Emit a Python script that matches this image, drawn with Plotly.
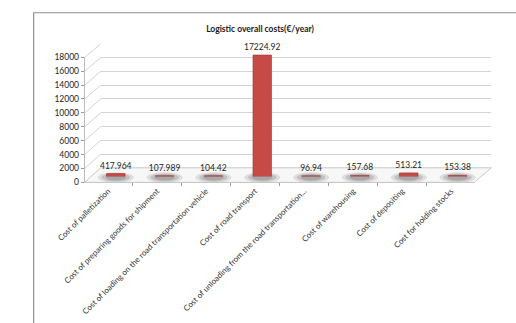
import plotly.graph_objects as go

# Logistic cost breakdown (EUR per year)
categories = [
    "Cost of palletization",
    "Cost of preparing goods for shipment",
    "Cost of loading on the road transportation vehicle",
    "Cost of road transport",
    "Cost of unloading from the road transportation...",
    "Cost of warehousing",
    "Cost of depositing",
    "Cost for holding stocks",
]
costs = [417.964, 107.989, 104.42, 17224.92, 96.94, 157.68, 513.21, 153.38]
cost_labels = ["417.964", "107.989", "104.42", "17224.92", "96.94", "157.68", "513.21", "153.38"]
y_ticks = list(range(0, 18001, 2000))

W, H = 516, 323
Y_MAX = 18000


def fx(px):
    return px / W


def fy(py):
    return 1 - py / H


# pixel frames: front face (labels), back wall (grid) and mid depth (bars)
FRONT = dict(x0=60, x1=472, y0=183, y1=54)
BACK = dict(x0=77, x1=490, y0=168, y1=40)
MID = dict(x0=67, x1=480, y0=177, y1=46)

FONT = "Lato, 'Open Sans', sans-serif"
RED = "#c64b47"

fig = go.Figure()

fig.add_trace(go.Bar(
    x=categories, y=costs, xaxis="x3", yaxis="y3",
    marker=dict(color=RED, line=dict(color="#9c3431", width=0.6)),
    text=cost_labels, textposition="outside", constraintext="none",
    textfont=dict(size=8.5, color="#262626", family=FONT),
    cliponaxis=False, width=0.38, hoverinfo="x+y",
))

# invisible trace to hold the front category axis
fig.add_trace(go.Scatter(x=categories, y=[0] * len(categories), mode="markers",
                         marker=dict(opacity=0), xaxis="x", yaxis="y",
                         hoverinfo="skip", showlegend=False))
# invisible trace for the back wall grid
fig.add_trace(go.Scatter(x=categories, y=[0] * len(categories), mode="markers",
                         marker=dict(opacity=0), xaxis="x2", yaxis="y2",
                         hoverinfo="skip", showlegend=False))

shapes = []

# outer frame (left and top edges)
shapes.append(dict(type="path", xref="paper", yref="paper",
                   path=f"M {fx(6)} {fy(330)} L {fx(6)} {fy(8)} L {fx(530)} {fy(8)}",
                   line=dict(color="#8f8f8f", width=1.2)))

# floor of the chart
shapes.append(dict(type="path", xref="paper", yref="paper", layer="below",
                   path=(f"M {fx(FRONT['x0'])} {fy(FRONT['y0'])} L {fx(FRONT['x1'])} {fy(FRONT['y0'])} "
                         f"L {fx(BACK['x1'])} {fy(BACK['y0'])} L {fx(BACK['x0'])} {fy(BACK['y0'])} Z"),
                   fillcolor="#f7f7f7", line=dict(color="#c8c8c8", width=1)))

# side wall diagonals from the value axis to the back grid
for v in y_ticks[1:]:
    yf = FRONT["y0"] + (FRONT["y1"] - FRONT["y0"]) * v / Y_MAX
    yb = BACK["y0"] + (BACK["y1"] - BACK["y0"]) * v / Y_MAX
    shapes.append(dict(type="line", xref="paper", yref="paper", layer="below",
                       x0=fx(FRONT["x0"]), y0=fy(yf), x1=fx(BACK["x0"]), y1=fy(yb),
                       line=dict(color="#d4d4d4", width=1)))

# soft shadows beneath each cylinder
step = (MID["x1"] - MID["x0"]) / len(categories)
for i in range(len(categories)):
    cx = MID["x0"] + step * (i + 0.5)
    cy = MID["y0"] + 1
    for rw, rh, op in [(19, 5.5, 0.18), (15, 4.2, 0.25), (11, 3, 0.3)]:
        shapes.append(dict(type="circle", xref="paper", yref="paper", layer="below",
                           x0=fx(cx - rw), x1=fx(cx + rw), y0=fy(cy + rh), y1=fy(cy - rh),
                           fillcolor=f"rgba(110,110,110,{op})", line=dict(width=0)))

fig.update_layout(
    width=W, height=H,
    margin=dict(l=0, r=0, t=0, b=0),
    paper_bgcolor="white", plot_bgcolor="rgba(0,0,0,0)",
    showlegend=False,
    title=dict(text="<b>Logistic overall costs(€/year)</b>", x=fx(260), xanchor="center",
               y=fy(29), yanchor="middle",
               font=dict(size=8.5, color="#1a1a1a", family=FONT)),
    xaxis=dict(domain=[fx(FRONT["x0"]), fx(FRONT["x1"])], anchor="y",
               type="category", tickson="boundaries", ticks="outside", ticklen=3,
               tickcolor="#9a9a9a", tickangle=-45, showline=True, linecolor="#c8c8c8",
               showgrid=False, tickfont=dict(size=8, color="#333333", family=FONT),
               fixedrange=True),
    yaxis=dict(domain=[fy(FRONT["y0"]), fy(FRONT["y1"])], anchor="x",
               range=[0, Y_MAX], tickvals=y_ticks, ticktext=[str(v) for v in y_ticks],
               ticks="outside", ticklen=3,
               tickcolor="#9a9a9a", showline=True, linecolor="#bdbdbd",
               showgrid=False, zeroline=False,
               tickfont=dict(size=8.5, color="#262626", family=FONT), fixedrange=True),
    xaxis2=dict(domain=[fx(BACK["x0"]), fx(BACK["x1"])], anchor="y2", type="category",
                showticklabels=False, showgrid=False, showline=False, ticks="",
                fixedrange=True),
    yaxis2=dict(domain=[fy(BACK["y0"]), fy(BACK["y1"])], anchor="x2", range=[0, Y_MAX],
                tickvals=y_ticks, showticklabels=False, showgrid=True,
                gridcolor="#d4d4d4", gridwidth=1, zeroline=False, ticks="",
                fixedrange=True),
    xaxis3=dict(domain=[fx(MID["x0"]), fx(MID["x1"])], anchor="y3", type="category",
                showticklabels=False, showgrid=False, showline=False, ticks="",
                fixedrange=True),
    yaxis3=dict(domain=[fy(MID["y0"]), fy(MID["y1"])], anchor="x3", range=[0, Y_MAX],
                showticklabels=False, showgrid=False, zeroline=False, ticks="",
                fixedrange=True),
    shapes=shapes,
)

fig.write_html("out.html")
